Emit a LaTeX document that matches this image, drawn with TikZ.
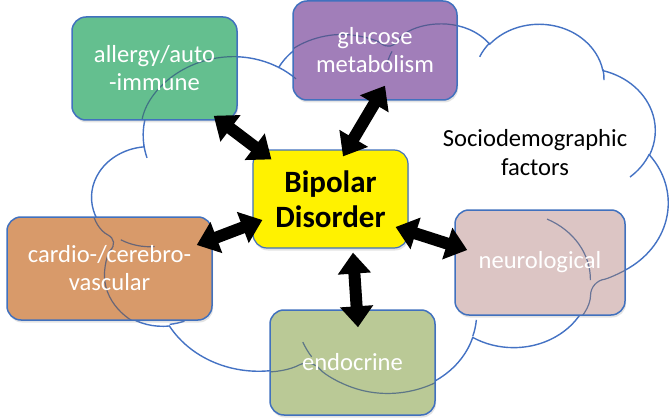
\documentclass[tikz,border=0pt]{standalone}
\usepackage{fontspec}
\setmainfont{Carlito}
\usetikzlibrary{arrows.meta,shadows,calc}

\definecolor{cloudblue}{RGB}{68,114,196}
\definecolor{bordblue}{RGB}{65,113,190}
\definecolor{cgreen}{RGB}{100,191,143}
\definecolor{cpurple}{RGB}{161,126,185}
\definecolor{corange}{RGB}{216,154,106}
\definecolor{cpink}{RGB}{220,197,196}
\definecolor{colive}{RGB}{186,201,150}

% elliptical arc, OOXML style: radii wR hR, visual start angle and sweep (degrees, y down)
\newcommand\cldarc[4]{%
  \pgfmathsetmacro\cldS{atan2((#1)*sin(-(#3)),(#2)*cos(-(#3)))}%
  \pgfmathsetmacro\cldE{atan2((#1)*sin(-(#3)-(#4)),(#2)*cos(-(#3)-(#4)))}%
  \pgfmathsetmacro\cldD{\cldE-\cldS}%
  \pgfmathsetmacro\cldD{(\cldD>0)*((\cldD)-360)+(1-(\cldD>0))*(\cldD)}%
  \pgfmathsetmacro\cldE{\cldS+\cldD}%
  \pgfpatharc{\cldS}{\cldE}{#1*1.33333pt and #2*0.854167pt}}
\newcommand\cldpt[2]{\pgfpoint{#1*1.33333pt}{-#2*0.854167pt}}

\newcommand\cloudoutline{%
  \pgfpathmoveto{\cldpt{39.00}{143.70}}%
  \cldarc{67.53}{91.90}{-190.4875}{123.7805}%
  \cldarc{53.33}{72.67}{-144.1024}{89.9452}%
  \cldarc{43.65}{59.45}{-145.8079}{99.7230}%
  \cldarc{48.57}{65.95}{-130.9861}{117.2417}%
  \cldarc{53.33}{72.73}{-78.7089}{109.0269}%
  \cldarc{67.75}{92.20}{-46.2673}{130.2690}%
  \cldarc{57.85}{78.67}{0.6250}{114.0333}%
  \cldarc{67.52}{92.15}{22.4516}{115.1726}%
  \cldarc{77.20}{105.43}{66.2426}{75.7110}%
  \cldarc{43.60}{59.18}{-274.9421}{146.7356}%
  \cldarc{43.45}{59.45}{-246.8285}{152.5189}%
  \pgfpathclose}
\newcommand\cloudhooks{%
  \pgfpathmoveto{\cldpt{46.93}{261.77}}\cldarc{43.45}{59.45}{86.7420}{26.4295}%
  \pgfpathmoveto{\cldpt{69.28}{348.99}}\cldarc{43.60}{59.18}{73.6105}{11.4475}%
  \pgfpathmoveto{\cldpt{164.78}{390.90}}\cldarc{67.52}{92.15}{137.6242}{14.0811}%
  \pgfpathmoveto{\cldpt{288.27}{347.51}}\cldarc{67.52}{92.15}{6.4533}{15.9984}%
  \pgfpathmoveto{\cldpt{341.29}{229.54}}\cldarc{57.85}{78.67}{-70.2924}{70.9174}%
  \pgfpathmoveto{\cldpt{417.98}{153.54}}\cldarc{53.33}{72.73}{30.3180}{27.7515}%
  \pgfpathmoveto{\cldpt{383.24}{54.26}}\cldarc{48.57}{65.95}{-13.7443}{14.8589}%
  \pgfpathmoveto{\cldpt{290.78}{39.52}}\cldarc{48.57}{65.95}{-149.1815}{18.1954}%
  \pgfpathmoveto{\cldpt{221.41}{47.20}}\cldarc{43.65}{59.45}{-163.4943}{17.6864}%
  \pgfpathmoveto{\cldpt{140.00}{51.92}}\cldarc{67.53}{91.90}{-66.7070}{12.3194}%
  \pgfpathmoveto{\cldpt{41.27}{157.89}}\cldarc{67.53}{91.90}{157.6544}{11.8582}}

% cloud lines seen through a box (drawn inside the box, under its text)
\newcommand\cloudthrough{%
  \pgftransformreset
  \pgftransformshift{\pgfpoint{92pt}{-23pt}}%
  \pgfsetlinewidth{1.2pt}%
  \pgfsetstrokecolor{cloudblue!65!black}%
  \pgfsetstrokeopacity{0.65}%
  \cloudoutline\pgfusepath{stroke}%
  \cloudhooks\pgfusepath{stroke}}

\tikzset{
  box/.style={draw=bordblue, line width=1.5pt, rounded corners=14pt,
    text=white, align=center, inner sep=0pt,
    font=\fontsize{24.6}{28}\selectfont,
    path picture={\cloudthrough},
    drop shadow={opacity=0.22, shadow xshift=1pt, shadow yshift=-2.5pt}},
  dblarrow/.style={draw=black, line width=12pt,
    {Triangle[width=32pt,length=21pt]}-{Triangle[width=32pt,length=21pt]}},
}

\begin{document}
\begin{tikzpicture}[x=1pt, y=-1pt]
\useasboundingbox[fill=white] (0,0) rectangle (670,420);

% cloud
\begin{scope}[shift={(92pt,-23pt)}]
  \pgfsetlinewidth{1.4pt}
  \pgfsetstrokecolor{cloudblue}
  \pgfsetfillcolor{white}
  \cloudoutline
  \pgfusepath{fill,stroke}
  \cloudhooks
  \pgfusepath{stroke}
\end{scope}

% boxes
\node[box, fill=cgreen, minimum width=165pt, minimum height=103pt] (allergy) at (154.5,68.5) {allergy/auto\\-immune};
\node[box, fill=cpurple, minimum width=164pt, minimum height=99pt] (glucose) at (375,50.5) {glucose\\metabolism};
\node[box, fill=corange, minimum width=205pt, minimum height=103pt] (cardio) at (109.5,268.5) {cardio-/cerebro-\\vascular};
\node[box, fill=cpink, minimum width=170pt, minimum height=105pt] (neuro) at (540,262.5) {neurological};
\node[box, fill=colive, minimum width=165pt, minimum height=105pt] (endocrine) at (352.5,362.5) {endocrine};

\node[box, fill=yellow, text=black, line width=1.2pt, font=\fontsize{31}{35}\selectfont\bfseries,
  minimum width=155pt, minimum height=98pt, path picture={}, drop shadow={opacity=0}] (bp) at (330.5,199) {Bipolar\\Disorder};

\node[align=center, font=\fontsize{24.6}{29}\selectfont, text=black] (socio) at (535,153) {Sociodemographic\\factors};

% arrows
\draw[dblarrow] ($(allergy.south east)+(-24,-5)$) -- ($(bp.north west)+(19,10)$);
\draw[dblarrow] ($(glucose.south)+(10,-15)$) -- ($(bp.north)+(12.5,7)$);
\draw[dblarrow] ($(cardio.east)+(-16,-23.5)$) -- ($(bp.west)+(10,21)$);
\draw[dblarrow] ($(bp.east)+(-13,28)$) -- ($(neuro.west)+(13,-12.5)$);
\draw[dblarrow] ($(bp.south)+(22.5,4)$) -- ($(endocrine.north)+(5.5,18)$);
\end{tikzpicture}
\end{document}
